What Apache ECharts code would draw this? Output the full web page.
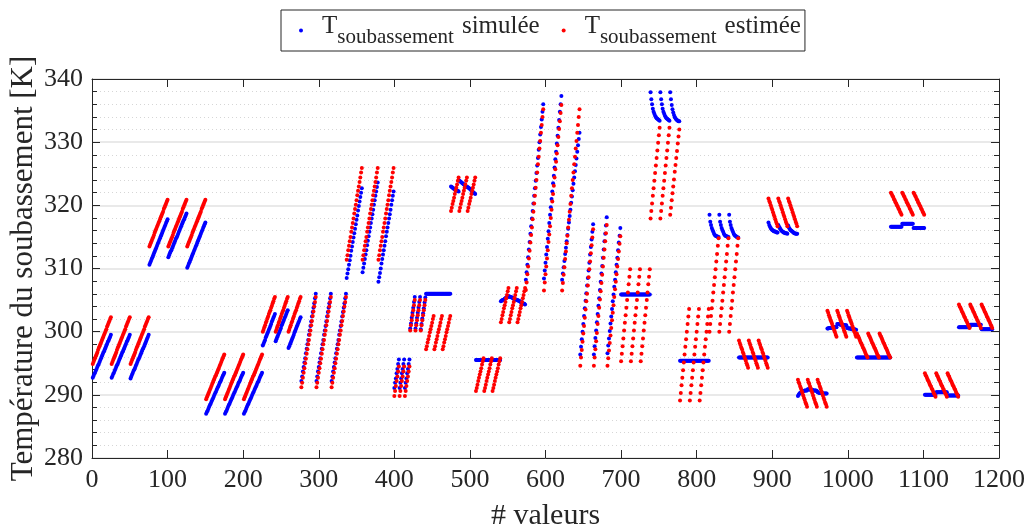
<!DOCTYPE html>
<html><head><meta charset="utf-8">
<script src="https://cdn.jsdelivr.net/npm/echarts@6/dist/echarts.min.js"></script>
<style>html,body{margin:0;padding:0;background:#fff}#c{width:1032px;height:529px}</style>
</head><body><div id="c"></div>
<script>
// x ticks / y ticks
const xTicks = [0, 1200, 100];
const yTicks = [280, 340, 10];

// "T soubassement simulée" : consecutive segments of consecutive values (# valeurs)
const simulee = [
// ~0-75
[292.7,293.0,293.3,293.5,293.8,294.1,294.4,294.7,294.9,295.2,295.5,295.8,296.1,296.4,296.7,296.9,297.2,297.5,297.8,298.1,298.4,298.6,298.9,299.2,299.5],
[292.7,293.0,293.3,293.5,293.8,294.1,294.4,294.7,294.9,295.2,295.5,295.8,296.1,296.4,296.7,296.9,297.2,297.5,297.8,298.1,298.4,298.6,298.9,299.2,299.5],
[292.6,292.9,293.2,293.5,293.8,294.0,294.3,294.6,294.9,295.2,295.5,295.7,296.0,296.3,296.6,296.9,297.2,297.4,297.7,298.0,298.3,298.6,298.9,299.2,299.5],
// 75-150
[310.6,310.9,311.2,311.5,311.8,312.1,312.4,312.7,313.0,313.3,313.6,313.9,314.2,314.5,314.8,315.1,315.4,315.7,316.0,316.3,316.6,316.9,317.2,317.5,317.8],
[311.8,312.1,312.4,312.7,312.9,313.2,313.5,313.8,314.1,314.4,314.7,314.9,315.2,315.5,315.8,316.1,316.4,316.7,317.0,317.3,317.6,317.8,318.1,318.4,318.7],
[310.1,310.4,310.7,311.0,311.3,311.6,311.9,312.2,312.5,312.8,313.1,313.4,313.7,314.0,314.3,314.6,314.9,315.2,315.5,315.8,316.1,316.4,316.7,317.0,317.3],
// 150-225
[287.0,287.3,287.5,287.8,288.1,288.4,288.6,288.9,289.2,289.4,289.7,290.0,290.3,290.5,290.8,291.1,291.3,291.6,291.9,292.1,292.4,292.7,293.0,293.2,293.5],
[287.0,287.3,287.5,287.8,288.1,288.4,288.6,288.9,289.2,289.4,289.7,290.0,290.3,290.5,290.8,291.1,291.3,291.6,291.9,292.1,292.4,292.7,293.0,293.2,293.5],
[287.0,287.3,287.5,287.8,288.1,288.4,288.6,288.9,289.2,289.4,289.7,290.0,290.3,290.5,290.8,291.1,291.3,291.6,291.9,292.1,292.4,292.7,293.0,293.2,293.5],
// 225-276
[297.8,298.1,298.4,298.7,299.1,299.4,299.7,300.0,300.3,300.6,300.9,301.2,301.6,301.9,302.2,302.5,302.8],
[298.5,298.8,299.1,299.4,299.7,300.0,300.3,300.6,301.0,301.3,301.6,301.9,302.2,302.5,302.8,303.1,303.4],
[297.4,297.7,298.0,298.3,298.6,298.9,299.2,299.5,299.9,300.2,300.5,300.8,301.1,301.4,301.7,302.0,302.3],
// 276-336
[292.2,292.9,293.7,294.4,295.1,295.8,296.6,297.3,298.0,298.7,299.5,300.2,300.9,301.6,302.4,303.1,303.8,304.5,305.3,306.0],
[292.2,292.9,293.7,294.4,295.1,295.8,296.6,297.3,298.0,298.7,299.5,300.2,300.9,301.6,302.4,303.1,303.8,304.5,305.3,306.0],
[292.2,292.9,293.7,294.4,295.1,295.8,296.6,297.3,298.0,298.7,299.5,300.2,300.9,301.6,302.4,303.1,303.8,304.5,305.3,306.0],
// 336-399
[308.5,309.2,309.9,310.6,311.3,312.0,312.8,313.5,314.2,314.9,315.6,316.3,317.0,317.7,318.4,319.2,319.9,320.6,321.3,322.0,322.7],
[309.4,310.1,310.8,311.5,312.2,312.9,313.7,314.4,315.1,315.8,316.5,317.2,317.9,318.6,319.3,320.1,320.8,321.5,322.2,322.9,323.6],
[307.9,308.6,309.3,310.0,310.8,311.5,312.2,312.9,313.6,314.3,315.1,315.8,316.5,317.2,317.9,318.6,319.3,320.1,320.8,321.5,322.2],
// 399-420
[291.1,291.9,292.6,293.4,294.1,294.9,295.6],
[291.1,291.9,292.6,293.4,294.1,294.9,295.6],
[291.1,291.9,292.6,293.4,294.1,294.9,295.6],
// 420-441
[300.5,301.3,302.2,303.0,303.8,304.7,305.5],
[300.5,301.3,302.2,303.0,303.8,304.7,305.5],
[300.4,301.2,302.1,302.9,303.7,304.6,305.4],
// 441-474
[306,306,306,306,306,306,306,306,306,306,306],
[306,306,306,306,306,306,306,306,306,306,306],
[306,306,306,306,306,306,306,306,306,306,306],
// 474-507
[323.0,322.9,322.8,322.7,322.6,322.5,322.5,322.4,322.3,322.3,322.2],
[323.9,323.8,323.7,323.6,323.5,323.4,323.3,323.2,323.1,323.0,322.9],
[322.9,322.8,322.7,322.6,322.5,322.3,322.2,322.1,322.0,321.9,321.8],
// 507-540
[295.5,295.5,295.5,295.5,295.5,295.5,295.5,295.5,295.5,295.5,295.5],
[295.5,295.5,295.5,295.5,295.5,295.5,295.5,295.5,295.5,295.5,295.5],
[295.5,295.5,295.5,295.5,295.5,295.5,295.5,295.5,295.5,295.5,295.5],
// 540-573
[304.8,304.9,305.0,305.0,305.1,305.2,305.3,305.4,305.4,305.5,305.6],
[305.6,305.5,305.5,305.4,305.4,305.3,305.2,305.2,305.1,305.1,305.0],
[305.0,304.9,304.9,304.8,304.7,304.7,304.6,304.5,304.4,304.4,304.3],
// 573-645
[308.2,309.4,310.6,311.8,313.0,314.2,315.5,316.7,317.9,319.1,320.3,321.5,322.7,323.9,325.1,326.3,327.5,328.8,330.0,331.2,332.4,333.6,334.8,336.0],
[308.4,309.7,310.9,312.2,313.4,314.7,315.9,317.2,318.5,319.7,321.0,322.2,323.5,324.7,326.0,327.3,328.5,329.8,331.0,332.3,333.5,334.8,336.0,337.3],
[308.2,309.2,310.2,311.2,312.3,313.3,314.3,315.3,316.3,317.3,318.3,319.3,320.4,321.4,322.4,323.4,324.4,325.4,326.4,327.4,328.5,329.5,330.5,331.5],
// 645-699
[296.4,297.6,298.8,300.0,301.2,302.5,303.7,304.9,306.1,307.3,308.5,309.7,310.9,312.2,313.4,314.6,315.8,317.0],
[296.4,297.7,299.0,300.2,301.5,302.8,304.1,305.3,306.6,307.9,309.2,310.4,311.7,313.0,314.3,315.5,316.8,318.1],
[296.6,297.8,298.9,300.1,301.3,302.4,303.6,304.8,305.9,307.1,308.2,309.4,310.6,311.7,312.9,314.1,315.2,316.4],
// 699-738
[305.9,305.9,305.9,305.9,305.9,305.9,305.9,305.9,305.9,305.9,305.9,305.9,305.9],
[305.9,305.9,305.9,305.9,305.9,305.9,305.9,305.9,305.9,305.9,305.9,305.9,305.9],
[305.9,305.9,305.9,305.9,305.9,305.9,305.9,305.9,305.9,305.9,305.9,305.9,305.9],
// 738-777
[337.9,336.8,336.0,335.3,334.8,334.5,334.2,334.0,333.8,333.7,333.6,333.5,333.4],
[337.9,336.8,336.0,335.3,334.8,334.5,334.2,334.0,333.8,333.7,333.6,333.5,333.4],
[337.9,336.8,335.9,335.2,334.7,334.3,334.0,333.8,333.6,333.5,333.4,333.3,333.3],
// 777-816
[295.4,295.4,295.4,295.4,295.4,295.4,295.4,295.4,295.4,295.4,295.4,295.4,295.4],
[295.4,295.4,295.4,295.4,295.4,295.4,295.4,295.4,295.4,295.4,295.4,295.4,295.4],
[295.4,295.4,295.4,295.4,295.4,295.4,295.4,295.4,295.4,295.4,295.4,295.4,295.4],
// 816-855
[318.5,317.4,316.9,316.4,316.1,315.8,315.5,315.3,315.2,315.1,315.1,315.0,315.0],
[318.5,317.4,316.9,316.4,316.1,315.8,315.5,315.3,315.2,315.1,315.1,315.0,315.0],
[318.5,317.4,316.9,316.4,316.1,315.8,315.5,315.3,315.2,315.1,315.0,314.9,314.9],
// 855-894
[295.9,295.9,295.9,295.9,295.9,295.9,295.9,295.9,295.9,295.9,295.9,295.9,295.9],
[295.9,295.9,295.9,295.9,295.9,295.9,295.9,295.9,295.9,295.9,295.9,295.9,295.9],
[295.9,295.9,295.9,295.9,295.9,295.9,295.9,295.9,295.9,295.9,295.9,295.9,295.9],
// 894-933
[317.3,316.9,316.6,316.4,316.2,316.1,316.0,315.9,315.9,315.8,315.8,315.7,315.7],
[316.9,316.6,316.4,316.2,316.0,315.9,315.8,315.7,315.7,315.6,315.6,315.6,315.5],
[316.8,316.5,316.3,316.1,316.0,315.9,315.8,315.7,315.6,315.6,315.5,315.5,315.5],
// 933-972
[289.8,290.0,290.2,290.3,290.4,290.5,290.5,290.6,290.6,290.7,290.7,290.7,290.7],
[290.9,290.9,290.9,290.8,290.8,290.8,290.8,290.7,290.7,290.7,290.7,290.7,290.6],
[290.4,290.4,290.3,290.3,290.3,290.3,290.3,290.2,290.2,290.2,290.2,290.2,290.2],
// 972-1011
[300.5,300.5,300.6,300.6,300.6,300.6,300.7,300.7,300.7,300.7,300.7,300.7,300.7],
[301.2,301.2,301.2,301.2,301.1,301.1,301.1,301.1,301.1,301.0,301.0,301.0,301.0],
[300.6,300.6,300.5,300.5,300.5,300.5,300.4,300.4,300.4,300.4,300.4,300.3,300.3],
// 1011-1056
[295.9,295.9,295.9,295.9,295.9,295.9,295.9,295.9,295.9,295.9,295.9,295.9,295.9,295.9,295.9],
[295.9,295.9,295.9,295.9,295.9,295.9,295.9,295.9,295.9,295.9,295.9,295.9,295.9,295.9,295.9],
[295.9,295.9,295.9,295.9,295.9,295.9,295.9,295.9,295.9,295.9,295.9,295.9,295.9,295.9,295.9],
// 1056-1101
[316.6,316.6,316.6,316.6,316.6,316.6,316.6,316.6,316.6,316.6,316.6,316.6,316.6,316.6,316.6],
[317.1,317.1,317.1,317.1,317.1,317.1,317.1,317.1,317.1,317.1,317.1,317.1,317.1,317.1,317.1],
[316.4,316.4,316.4,316.4,316.4,316.4,316.4,316.4,316.4,316.4,316.4,316.4,316.4,316.4,316.4],
// 1101-1146
[290.0,290.0,290.0,290.0,290.0,290.0,290.0,290.0,290.0,290.0,290.0,290.0,290.0,290.0,290.0],
[290.4,290.4,290.4,290.4,290.4,290.4,290.4,290.4,290.4,290.4,290.4,290.4,290.4,290.4,290.4],
[289.9,289.9,289.9,289.9,289.9,289.9,289.9,289.9,289.9,289.9,289.9,289.9,289.9,289.9,289.9],
// 1146-1191
[300.7,300.7,300.7,300.7,300.7,300.7,300.7,300.7,300.7,300.7,300.7,300.7,300.7,300.7,300.7],
[301.1,301.1,301.1,301.1,301.1,301.1,301.1,301.1,301.1,301.1,301.1,301.1,301.1,301.1,301.1],
[300.4,300.4,300.4,300.4,300.4,300.4,300.4,300.4,300.4,300.4,300.4,300.4,300.4,300.4,300.4]
];

// "T soubassement estimée"
const estimee = [
[294.9,295.2,295.5,295.8,296.1,296.4,296.7,297.1,297.4,297.7,298.0,298.3,298.6,298.9,299.2,299.5,299.8,300.1,300.4,300.8,301.1,301.4,301.7,302.0,302.3],
[294.9,295.2,295.5,295.8,296.1,296.4,296.7,297.1,297.4,297.7,298.0,298.3,298.6,298.9,299.2,299.5,299.8,300.1,300.4,300.8,301.1,301.4,301.7,302.0,302.3],
[294.9,295.2,295.5,295.8,296.1,296.4,296.7,297.1,297.4,297.7,298.0,298.3,298.6,298.9,299.2,299.5,299.8,300.1,300.4,300.8,301.1,301.4,301.7,302.0,302.3],
[313.5,313.8,314.1,314.4,314.7,315.0,315.3,315.7,316.0,316.3,316.6,316.9,317.2,317.5,317.8,318.1,318.4,318.7,319.0,319.4,319.7,320.0,320.3,320.6,320.9],
[313.5,313.8,314.1,314.4,314.7,315.0,315.3,315.7,316.0,316.3,316.6,316.9,317.2,317.5,317.8,318.1,318.4,318.7,319.0,319.4,319.7,320.0,320.3,320.6,320.9],
[313.5,313.8,314.1,314.4,314.7,315.0,315.3,315.7,316.0,316.3,316.6,316.9,317.2,317.5,317.8,318.1,318.4,318.7,319.0,319.4,319.7,320.0,320.3,320.6,320.9],
[289.3,289.6,289.9,290.2,290.5,290.8,291.1,291.4,291.7,292.0,292.3,292.6,292.9,293.1,293.4,293.7,294.0,294.3,294.6,294.9,295.2,295.5,295.8,296.1,296.4],
[289.3,289.6,289.9,290.2,290.5,290.8,291.1,291.4,291.7,292.0,292.3,292.6,292.9,293.1,293.4,293.7,294.0,294.3,294.6,294.9,295.2,295.5,295.8,296.1,296.4],
[289.3,289.6,289.9,290.2,290.5,290.8,291.1,291.4,291.7,292.0,292.3,292.6,292.9,293.1,293.4,293.7,294.0,294.3,294.6,294.9,295.2,295.5,295.8,296.1,296.4],
[300.0,300.3,300.7,301.0,301.4,301.7,302.1,302.4,302.8,303.1,303.4,303.8,304.1,304.5,304.8,305.2,305.5],
[300.0,300.3,300.7,301.0,301.4,301.7,302.1,302.4,302.8,303.1,303.4,303.8,304.1,304.5,304.8,305.2,305.5],
[300.0,300.3,300.7,301.0,301.4,301.7,302.1,302.4,302.8,303.1,303.4,303.8,304.1,304.5,304.8,305.2,305.5],
[291.2,291.9,292.7,293.5,294.2,295.0,295.7,296.5,297.2,298.0,298.7,299.5,300.2,301.0,301.7,302.5,303.2,304.0,304.7,305.5],
[291.2,291.9,292.7,293.5,294.2,295.0,295.7,296.5,297.2,298.0,298.7,299.5,300.2,301.0,301.7,302.5,303.2,304.0,304.7,305.5],
[291.2,291.9,292.7,293.5,294.2,295.0,295.7,296.5,297.2,298.0,298.7,299.5,300.2,301.0,301.7,302.5,303.2,304.0,304.7,305.5],
[311.4,312.1,312.9,313.6,314.3,315.0,315.8,316.5,317.2,317.9,318.7,319.4,320.1,320.8,321.6,322.3,323.0,323.7,324.4,325.2,325.9],
[311.4,312.1,312.9,313.6,314.3,315.0,315.8,316.5,317.2,317.9,318.7,319.4,320.1,320.8,321.6,322.3,323.0,323.7,324.4,325.2,325.9],
[311.4,312.1,312.9,313.6,314.3,315.0,315.8,316.5,317.2,317.9,318.7,319.4,320.1,320.8,321.6,322.3,323.0,323.7,324.4,325.2,325.9],
[289.8,290.6,291.4,292.2,292.9,293.7,294.5],
[289.8,290.6,291.4,292.2,292.9,293.7,294.5],
[289.8,290.6,291.4,292.2,292.9,293.7,294.5],
[300.2,301.0,301.8,302.6,303.4,304.2,305.0],
[300.2,301.0,301.8,302.6,303.4,304.2,305.0],
[300.2,301.0,301.8,302.6,303.4,304.2,305.0],
[297.2,297.7,298.3,298.8,299.3,299.9,300.4,300.9,301.4,302.0,302.5],
[297.2,297.7,298.3,298.8,299.3,299.9,300.4,300.9,301.4,302.0,302.5],
[297.2,297.7,298.3,298.8,299.3,299.9,300.4,300.9,301.4,302.0,302.5],
[319.1,319.6,320.2,320.7,321.2,321.8,322.3,322.8,323.3,323.9,324.4],
[319.1,319.6,320.2,320.7,321.2,321.8,322.3,322.8,323.3,323.9,324.4],
[319.1,319.6,320.2,320.7,321.2,321.8,322.3,322.8,323.3,323.9,324.4],
[290.6,291.1,291.6,292.2,292.7,293.2,293.7,294.2,294.8,295.3,295.8],
[290.6,291.1,291.6,292.2,292.7,293.2,293.7,294.2,294.8,295.3,295.8],
[290.6,291.1,291.6,292.2,292.7,293.2,293.7,294.2,294.8,295.3,295.8],
[301.5,302.0,302.6,303.1,303.7,304.2,304.7,305.3,305.8,306.4,306.9],
[301.5,302.0,302.6,303.1,303.7,304.2,304.7,305.3,305.8,306.4,306.9],
[301.5,302.0,302.6,303.1,303.7,304.2,304.7,305.3,305.8,306.4,306.9],
[306.6,307.8,309.1,310.3,311.6,312.8,314.1,315.3,316.5,317.8,319.0,320.3,321.5,322.8,324.0,325.2,326.5,327.7,329.0,330.2,331.5,332.7,334.0,335.2],
[306.5,307.8,309.1,310.3,311.6,312.9,314.2,315.4,316.7,318.0,319.3,320.6,321.8,323.1,324.4,325.7,326.9,328.2,329.5,330.8,332.1,333.3,334.6,335.9],
[306.5,307.7,309.0,310.2,311.5,312.7,314.0,315.2,316.5,317.7,319.0,320.2,321.5,322.7,324.0,325.2,326.5,327.7,329.0,330.2,331.5,332.7,334.0,335.2],
[294.6,295.9,297.1,298.4,299.7,300.9,302.2,303.5,304.8,306.0,307.3,308.6,309.9,311.1,312.4,313.7,314.9,316.2],
[294.6,295.9,297.2,298.5,299.8,301.2,302.5,303.8,305.1,306.4,307.7,309.0,310.3,311.7,313.0,314.3,315.6,316.9],
[294.6,295.8,297.0,298.2,299.4,300.6,301.8,303.0,304.2,305.5,306.7,307.9,309.1,310.3,311.5,312.7,313.9,315.1],
[295.3,296.5,297.7,298.9,300.2,301.4,302.6,303.8,305.0,306.2,307.5,308.7,309.9],
[295.3,296.5,297.7,298.9,300.2,301.4,302.6,303.8,305.0,306.2,307.5,308.7,309.9],
[295.3,296.5,297.7,298.9,300.2,301.4,302.6,303.8,305.0,306.2,307.5,308.7,309.9],
[317.9,319.1,320.3,321.5,322.7,323.9,325.1,326.3,327.5,328.7,329.9,331.1,332.3],
[317.9,319.1,320.3,321.5,322.7,323.9,325.1,326.3,327.5,328.7,329.9,331.1,332.3],
[318.5,319.6,320.8,321.9,323.0,324.1,325.3,326.4,327.5,328.6,329.8,330.9,332.0],
[289.1,290.3,291.5,292.7,293.9,295.1,296.4,297.6,298.8,300.0,301.2,302.4,303.6],
[289.1,290.3,291.5,292.7,293.9,295.1,296.4,297.6,298.8,300.0,301.2,302.4,303.6],
[289.1,290.3,291.5,292.7,293.9,295.1,296.4,297.6,298.8,300.0,301.2,302.4,303.6],
[300.0,301.2,302.5,303.7,304.9,306.2,307.4,308.6,309.9,311.1,312.3,313.6,314.8],
[300.0,301.2,302.5,303.7,304.9,306.2,307.4,308.6,309.9,311.1,312.3,313.6,314.8],
[300.0,301.2,302.5,303.7,304.9,306.2,307.4,308.6,309.9,311.1,312.3,313.6,314.8],
[298.6,298.2,297.9,297.5,297.2,296.8,296.5,296.1,295.7,295.4,295.0,294.7,294.3],
[298.6,298.2,297.9,297.5,297.2,296.8,296.5,296.1,295.7,295.4,295.0,294.7,294.3],
[298.6,298.2,297.9,297.5,297.2,296.8,296.5,296.1,295.7,295.4,295.0,294.7,294.3],
[321.1,320.7,320.4,320.0,319.6,319.3,318.9,318.5,318.2,317.8,317.4,317.1,316.7],
[321.1,320.7,320.4,320.0,319.6,319.3,318.9,318.5,318.2,317.8,317.4,317.1,316.7],
[321.1,320.7,320.4,320.0,319.6,319.3,318.9,318.5,318.2,317.8,317.4,317.1,316.7],
[292.4,292.0,291.7,291.3,291.0,290.6,290.3,289.9,289.5,289.2,288.8,288.5,288.1],
[292.4,292.0,291.7,291.3,291.0,290.6,290.3,289.9,289.5,289.2,288.8,288.5,288.1],
[292.4,292.0,291.7,291.3,291.0,290.6,290.3,289.9,289.5,289.2,288.8,288.5,288.1],
[303.3,303.0,302.6,302.3,301.9,301.6,301.3,300.9,300.6,300.2,299.9,299.5,299.2],
[303.3,303.0,302.6,302.3,301.9,301.6,301.3,300.9,300.6,300.2,299.9,299.5,299.2],
[303.3,303.0,302.6,302.3,301.9,301.6,301.3,300.9,300.6,300.2,299.9,299.5,299.2],
[299.7,299.4,299.2,298.9,298.6,298.3,298.1,297.8,297.5,297.3,297.0,296.7,296.4,296.2,295.9],
[299.7,299.4,299.2,298.9,298.6,298.3,298.1,297.8,297.5,297.3,297.0,296.7,296.4,296.2,295.9],
[299.7,299.4,299.2,298.9,298.6,298.3,298.1,297.8,297.5,297.3,297.0,296.7,296.4,296.2,295.9],
[322.0,321.8,321.5,321.3,321.0,320.8,320.5,320.3,320.0,319.8,319.5,319.3,319.0,318.8,318.5],
[322.0,321.8,321.5,321.3,321.0,320.8,320.5,320.3,320.0,319.8,319.5,319.3,319.0,318.8,318.5],
[322.0,321.8,321.5,321.3,321.0,320.8,320.5,320.3,320.0,319.8,319.5,319.3,319.0,318.8,318.5],
[293.4,293.1,292.9,292.6,292.3,292.1,291.8,291.5,291.3,291.0,290.8,290.5,290.2,290.0,289.7],
[293.4,293.1,292.9,292.6,292.3,292.1,291.8,291.5,291.3,291.0,290.8,290.5,290.2,290.0,289.7],
[293.4,293.1,292.9,292.6,292.3,292.1,291.8,291.5,291.3,291.0,290.8,290.5,290.2,290.0,289.7],
[304.3,304.0,303.8,303.5,303.2,303.0,302.7,302.4,302.2,301.9,301.7,301.4,301.1,300.9,300.6],
[304.3,304.0,303.8,303.5,303.2,303.0,302.7,302.4,302.2,301.9,301.7,301.4,301.1,300.9,300.6],
[304.3,304.0,303.8,303.5,303.2,303.0,302.7,302.4,302.2,301.9,301.7,301.4,301.1,300.9,300.6]
];

const seriesNames = ['simulée', 'estimée'];

// each value is plotted at its running index ("# valeurs")
function toPoints(segs) {
  const pts = [];
  let n = 1;
  segs.forEach(seg => seg.forEach(v => { pts.push([n, v]); n += 1; }));
  return pts;
}

const FONT = '"Liberation Serif", "Times New Roman", serif';
const INK = '#262626';
const chart = echarts.init(document.getElementById('c'), null, {renderer: 'canvas'});

const tickCommon = {show: true, inside: true, lineStyle: {color: INK, width: 1}};

chart.setOption({
  animation: false,
  backgroundColor: '#ffffff',
  grid: {left: 92, right: 33, top: 79, bottom: 71, containLabel: false, outerBoundsMode: 'none'},
  legend: {
    left: 281, top: 10, orient: 'horizontal',
    data: [{name: seriesNames[0], icon: 'circle'}, {name: seriesNames[1], icon: 'circle'}],
    itemWidth: 4, itemHeight: 4, itemGap: 22,
    borderColor: INK, borderWidth: 1, borderRadius: 0, backgroundColor: '#ffffff',
    padding: [3, 4, 3, 18],
    selectedMode: false,
    formatter: n => '{t|T}{s|soubassement}{w|' + n + '}',
    textStyle: {
      fontFamily: FONT, color: INK,
      rich: {
        t: {fontFamily: FONT, fontSize: 25, lineHeight: 28, verticalAlign: 'middle', color: INK, padding: [0, 0, 8, 14]},
        s: {fontFamily: FONT, fontSize: 21, lineHeight: 22, verticalAlign: 'middle', color: INK, padding: [14, 0, 0, 0]},
        w: {fontFamily: FONT, fontSize: 25, lineHeight: 28, verticalAlign: 'middle', color: INK, padding: [0, 0, 8, 8]}
      }
    }
  },
  xAxis: [{
    type: 'value', min: xTicks[0], max: xTicks[1], interval: xTicks[2],
    axisLine: {show: true, onZero: false, lineStyle: {color: INK, width: 1}},
    axisTick: Object.assign({length: 8}, tickCommon),
    axisLabel: {fontFamily: FONT, fontSize: 26, color: INK, margin: 9, formatter: v => String(v)},
    splitLine: {show: false},
    name: '# valeurs', nameLocation: 'middle', nameGap: 43,
    nameTextStyle: {fontFamily: FONT, fontSize: 30, color: INK}
  }, {
    type: 'value', position: 'top', min: xTicks[0], max: xTicks[1], interval: xTicks[2],
    axisLine: {show: true, onZero: false, lineStyle: {color: INK, width: 1}},
    axisTick: Object.assign({length: 8}, tickCommon),
    axisLabel: {show: false}, splitLine: {show: false}
  }],
  yAxis: [{
    type: 'value', min: yTicks[0], max: yTicks[1], interval: yTicks[2],
    axisLine: {show: true, onZero: false, lineStyle: {color: INK, width: 1}},
    axisTick: Object.assign({length: 8}, tickCommon),
    minorTick: {show: true, splitNumber: 5, length: 5, lineStyle: {color: INK, width: 1}},
    axisLabel: {fontFamily: FONT, fontSize: 26, color: INK, margin: 9, formatter: v => String(v)},
    splitLine: {show: true, lineStyle: {color: '#e2e2e2', width: 1.5}},
    minorSplitLine: {show: true, lineStyle: {color: '#d6d6d6', width: 1, type: [1, 3]}},
    name: 'Température du soubassement [K]', nameLocation: 'middle', nameGap: 53,
    nameMoveOverlap: false,
    nameTextStyle: {fontFamily: FONT, fontSize: 31, color: INK}
  }, {
    type: 'value', position: 'right', min: yTicks[0], max: yTicks[1], interval: yTicks[2],
    axisLine: {show: true, onZero: false, lineStyle: {color: INK, width: 1}},
    axisTick: Object.assign({length: 8}, tickCommon),
    minorTick: {show: true, splitNumber: 5, length: 5, lineStyle: {color: INK, width: 1}},
    axisLabel: {show: false}, splitLine: {show: false}, minorSplitLine: {show: false}
  }],
  series: [{
    name: seriesNames[0], type: 'scatter', xAxisIndex: 0, yAxisIndex: 0,
    data: toPoints(simulee), symbol: 'circle', symbolSize: 4,
    itemStyle: {color: '#0000ff', opacity: 1}, silent: true, progressive: 0, z: 2
  }, {
    name: seriesNames[1], type: 'scatter', xAxisIndex: 0, yAxisIndex: 0,
    data: toPoints(estimee), symbol: 'circle', symbolSize: 4,
    itemStyle: {color: '#ff0000', opacity: 1}, silent: true, progressive: 0, z: 3
  }]
});
</script>
</body></html>
